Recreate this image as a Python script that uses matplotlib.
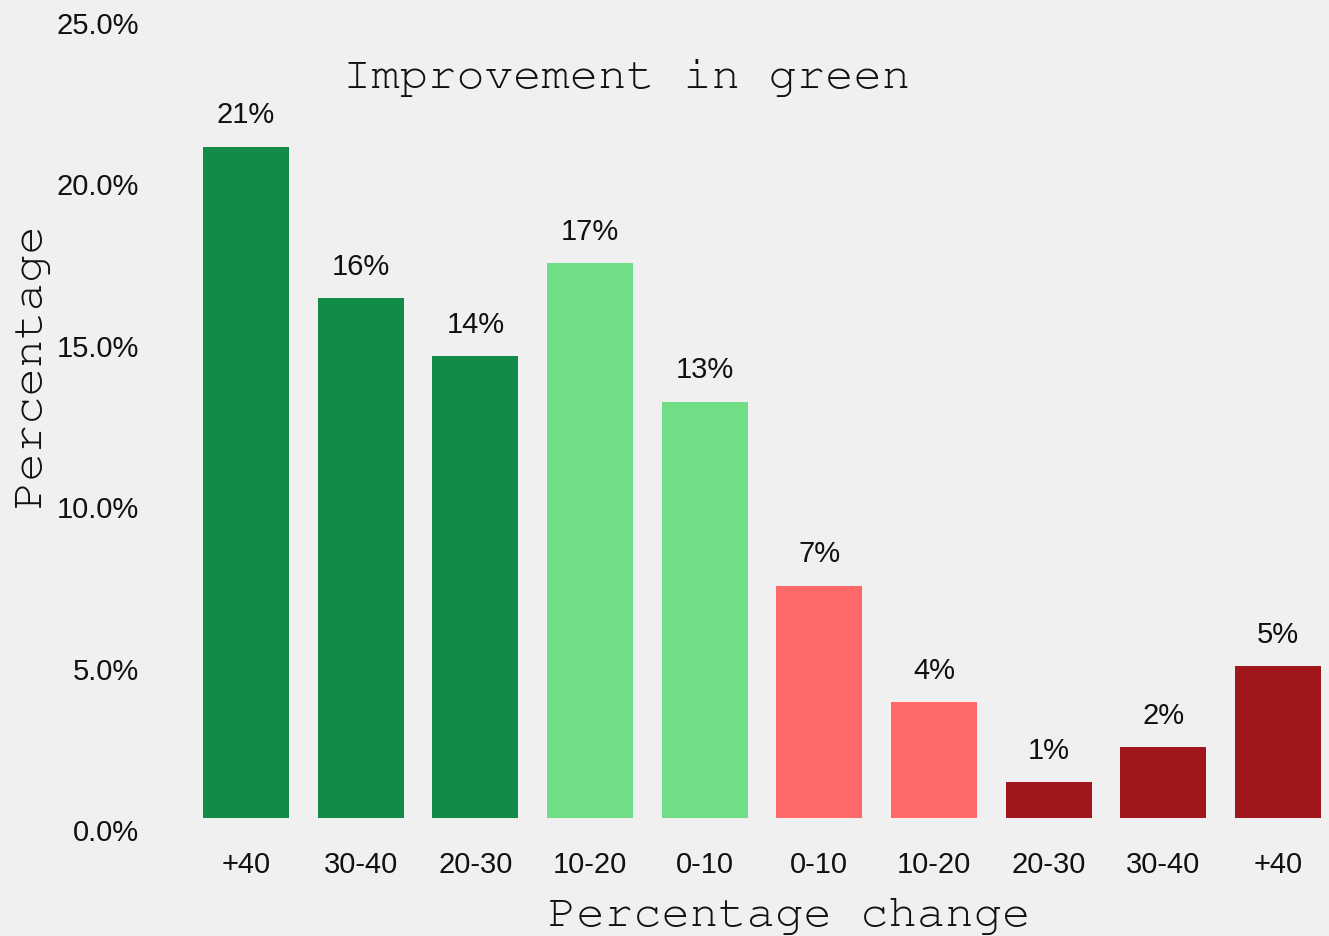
import matplotlib
matplotlib.use("Agg")
import matplotlib.pyplot as plt
from matplotlib import font_manager
from matplotlib.ticker import PercentFormatter

# Share of items by size of percentage change (improvements first, then declines)
categories = ["+40", "30-40", "20-30", "10-20", "0-10",
              "0-10", "10-20", "20-30", "30-40", "+40"]
shares = [20.8, 16.1, 14.3, 17.2, 12.9, 7.2, 3.6, 1.1, 2.2, 4.7]
bar_colors = ["#108c48", "#108c48", "#108c48", "#71dd86", "#71dd86",
              "#ff6868", "#ff6868", "#a1161b", "#a1161b", "#a1161b"]
y_ticks = [0, 5, 10, 15, 20, 25]

bg = "#f0f0f0"
installed = {f.name for f in font_manager.fontManager.ttflist}
mono = next((n for n in ["Courier New", "Nimbus Mono PS", "FreeMono",
                         "Liberation Mono"] if n in installed), "DejaVu Sans Mono")
sans = "Liberation Sans"

fig = plt.figure(figsize=(13.29, 9.37), dpi=100, facecolor=bg)
W, H = 1329, 937
left_px, right_px, top_px, bottom_px = 150, 1329, 12, 819
ax = fig.add_axes([left_px / W, 1 - bottom_px / H,
                   (right_px - left_px) / W, (bottom_px - top_px) / H])
ax.set_facecolor(bg)

x = list(range(len(categories)))
ax.bar(x, shares, width=0.75, color=bar_colors, zorder=2)

for xi, v in zip(x, shares):
    ax.text(xi, v + 1.0, f"{v:.0f}%", ha="center", va="center",
            fontsize=21, family=sans, color="#111111")

ax.set_xlim(-0.837, 9.444)
ax.set_ylim(0, 25)
ax.set_xticks(x)
ax.set_xticklabels(categories, family=sans, fontsize=21)
ax.set_yticks(y_ticks)
ax.yaxis.set_major_formatter(PercentFormatter(decimals=1))
for lbl in ax.get_yticklabels():
    lbl.set_family(sans)
    lbl.set_fontsize(21)
    lbl.set_va("top")

ax.tick_params(axis="x", length=0, pad=23, colors="#111111")
ax.tick_params(axis="y", length=0, pad=8, colors="#111111")
for s in ax.spines.values():
    s.set_visible(False)
ax.grid(False)

ax.set_title("Improvement in green", family=mono, fontsize=34,
             x=(627 - left_px) / (right_px - left_px), y=1.0, pad=-55,
             color="#111111")
ax.set_xlabel("Percentage change", family=mono, fontsize=34, color="#111111")
ax.xaxis.set_label_coords((789 - left_px) / (right_px - left_px),
                          -(917 - bottom_px) / (bottom_px - top_px))
ax.xaxis.label.set_va("center")
ax.set_ylabel("Percentage", family=mono, fontsize=34, color="#111111")
ax.yaxis.set_label_coords(-(left_px - 31) / (right_px - left_px),
                          (bottom_px - 365) / (bottom_px - top_px))
ax.yaxis.label.set_va("center")

fig.savefig("out.png", dpi=100, facecolor=bg)
